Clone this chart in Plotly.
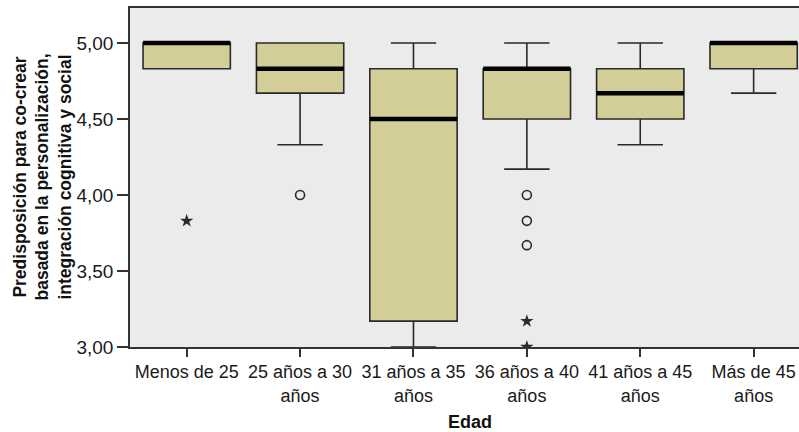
import plotly.graph_objects as go

categories = ["Menos de 25", "25 años a 30 años", "31 años a 35 años",
              "36 años a 40 años", "41 años a 45 años", "Más de 45 años"]
tick_labels = ["Menos de 25", "25 años a 30<br>años", "31 años a 35<br>años",
               "36 años a 40<br>años", "41 años a 45<br>años", "Más de 45<br>años"]
q1 = [4.83, 4.67, 3.17, 4.50, 4.50, 4.83]
median = [5.00, 4.83, 4.50, 4.83, 4.67, 5.00]
q3 = [5.00, 5.00, 4.83, 4.83, 4.83, 5.00]
lower_whisker = [4.83, 4.33, 3.00, 4.17, 4.33, 4.67]
upper_whisker = [5.00, 5.00, 5.00, 5.00, 5.00, 5.00]

outlier_cat = ["25 años a 30 años", "36 años a 40 años", "36 años a 40 años", "36 años a 40 años"]
outlier_val = [4.00, 4.00, 3.83, 3.67]
extreme_cat = ["Menos de 25", "36 años a 40 años", "36 años a 40 años"]
extreme_val = [3.83, 3.17, 3.00]

FILL = "#D3CE98"
LINE = "#2a2a2a"
FONT = "Liberation Sans, Arial, sans-serif"

fig = go.Figure()
fig.add_trace(go.Box(
    x=categories, q1=q1, median=median, q3=q3,
    lowerfence=lower_whisker, upperfence=upper_whisker,
    fillcolor=FILL, line=dict(color=LINE, width=1.6),
    whiskerwidth=0.52, showlegend=False, hoverinfo="skip",
))
# thick median bars
fig.add_trace(go.Box(
    x=categories, q1=median, median=median, q3=median,
    lowerfence=median, upperfence=median,
    fillcolor="black", line=dict(color="black", width=4.5),
    whiskerwidth=0, showlegend=False, hoverinfo="skip",
))
fig.add_trace(go.Scatter(
    x=outlier_cat, y=outlier_val, mode="markers",
    marker=dict(symbol="circle-open", size=9, color=LINE, line=dict(width=1.6)),
    showlegend=False,
))
fig.add_trace(go.Scatter(
    x=extreme_cat, y=extreme_val, mode="markers",
    marker=dict(symbol="star", size=10, color=LINE),
    showlegend=False,
))

fig.update_layout(
    width=799, height=432,
    margin=dict(l=130, r=0, t=8, b=85),
    paper_bgcolor="white", plot_bgcolor="#EBEBEB",
    boxmode="overlay", boxgap=0.23, boxgroupgap=0,
    separators=",.",
    font=dict(family=FONT, size=18, color="#222"),
    xaxis=dict(
        type="category", categoryorder="array", categoryarray=categories,
        tickvals=categories, ticktext=tick_labels, automargin=False,
        range=[-0.5, 5.4], showline=True, linecolor="#333", linewidth=1.5,
        mirror=True, ticks="outside", ticklen=8, tickcolor="#333", tickwidth=1.5,
        showgrid=False, tickfont=dict(size=18, color="#1a1a1a"),
    ),
    yaxis=dict(
        range=[3.0, 5.23], tickvals=[3.0, 3.5, 4.0, 4.5, 5.0], tickformat=".2f",
        showline=True, linecolor="#333", linewidth=1.5, automargin=False,
        ticks="outside", ticklen=11, tickcolor="#333", tickwidth=1.5,
        showgrid=False, zeroline=False, tickfont=dict(size=19, color="#1a1a1a"),
    ),
    annotations=[
        dict(text="<b>Predisposición para co-crear<br>basada en la personalización,<br>integración cognitiva y social</b>",
             xref="paper", yref="paper", x=-0.1315, y=0.5, xanchor="center", yanchor="middle",
             textangle=-90, showarrow=False, align="center",
             font=dict(family=FONT, size=17.5, color="#111")),
        dict(text="<b>Edad</b>", xref="x", yref="paper", x=2.5, y=-0.221,
             xanchor="center", yanchor="middle", showarrow=False,
             font=dict(family=FONT, size=18, color="#111")),
    ],
)

# remove the page's default body margin so the figure fills the window exactly
fig.write_html(
    "out.html",
    config={"displayModeBar": False},
    post_script="document.body.style.margin='0';document.body.style.overflow='hidden';",
)
